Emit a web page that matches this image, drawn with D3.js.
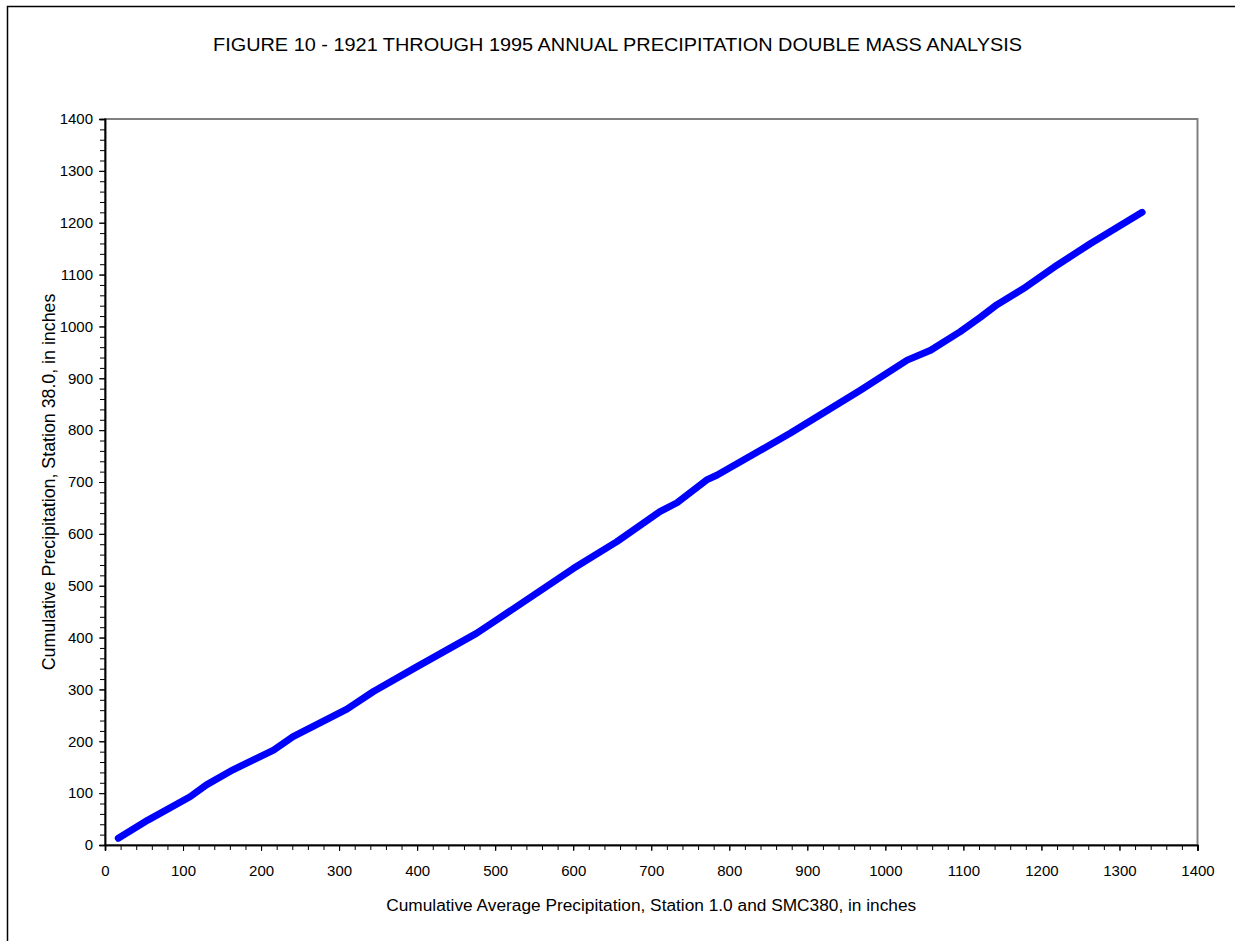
<!DOCTYPE html>
<html>
<head>
<meta charset="utf-8">
<script src="https://cdn.jsdelivr.net/npm/d3@7"></script>
<style>
  html, body { margin: 0; padding: 0; background: #fff; }
  svg { display: block; font-family: "Liberation Sans", Arial, sans-serif; }
</style>
</head>
<body>
<svg id="chart" width="1235" height="941"></svg>
<script>
// ---- Data ----
const titleText = "FIGURE 10 - 1921 THROUGH 1995 ANNUAL PRECIPITATION DOUBLE MASS ANALYSIS";
const xAxisTitle = "Cumulative Average Precipitation, Station 1.0 and SMC380, in inches";
const yAxisTitle = "Cumulative Precipitation, Station 38.0, in inches";
const xTicks = [0,100,200,300,400,500,600,700,800,900,1000,1100,1200,1300,1400];
const yTicks = [0,100,200,300,400,500,600,700,800,900,1000,1100,1200,1300,1400];
// cumulative average precipitation (Station 1.0 and SMC380)
const cumAvg = [17, 55, 109, 130, 164, 216, 241, 310, 344, 400, 476, 502, 600, 656, 711, 733, 771, 784, 848, 878, 968, 1028, 1058, 1096, 1122, 1143, 1177, 1220, 1263, 1329];
// cumulative precipitation (Station 38.0)
const cumSta = [13, 48, 93, 116, 145, 183, 209, 262, 296, 344, 408, 434, 533, 585, 643, 660, 704, 713, 768, 794, 877, 935, 954, 990, 1018, 1042, 1073, 1118, 1160, 1220];

const svg = d3.select("#chart");

// outer frame
svg.append("rect")
  .attr("x", 7.5).attr("y", 6.5)
  .attr("width", 1260).attr("height", 960)
  .attr("fill", "none").attr("stroke", "#000").attr("stroke-width", 1.5);

const L = 105, R = 1197.5, T = 119, B = 845;
const x = d3.scaleLinear().domain([0, 1400]).range([L, R]);
const y = d3.scaleLinear().domain([0, 1400]).range([B, T]);

// plot area border (grey)
svg.append("rect")
  .attr("x", L).attr("y", T).attr("width", R - L).attr("height", B - T)
  .attr("fill", "none").attr("stroke", "#808080").attr("stroke-width", 2);

// minor ticks
const minor = d3.range(0, 1401, 20);
const xMinor = svg.append("g").attr("transform", `translate(0,${B})`)
  .call(d3.axisBottom(x).tickValues(minor).tickSize(5).tickFormat(""));
const yMinor = svg.append("g").attr("transform", `translate(${L},0)`)
  .call(d3.axisLeft(y).tickValues(minor).tickSize(5).tickFormat(""));

// major axes
const xAxis = svg.append("g").attr("transform", `translate(0,${B})`)
  .call(d3.axisBottom(x).tickValues(xTicks).tickSize(6).tickPadding(14).tickFormat(d3.format("d")));
const yAxis = svg.append("g").attr("transform", `translate(${L},0)`)
  .call(d3.axisLeft(y).tickValues(yTicks).tickSize(6).tickPadding(6).tickFormat(d3.format("d")));

[xMinor, yMinor, xAxis, yAxis].forEach(g => {
  g.select(".domain").attr("stroke", "#000").attr("stroke-width", 1.5);
  g.selectAll(".tick line").attr("stroke", "#000").attr("stroke-width", 1);
  g.selectAll(".tick text").attr("fill", "#000").style("font-size", "15px")
    .style("font-family", "'Liberation Sans', Arial, sans-serif");
});
xAxis.selectAll(".tick text").attr("dy", "0.71em");

// data line
const pts = cumAvg.map((v, i) => [v, cumSta[i]]);
svg.append("path")
  .datum(pts)
  .attr("fill", "none")
  .attr("stroke", "#0000ff")
  .attr("stroke-width", 7)
  .attr("stroke-linecap", "round")
  .attr("stroke-linejoin", "round")
  .attr("d", d3.line().x(d => x(d[0])).y(d => y(d[1])));

// title
svg.append("text")
  .attr("x", 617.5).attr("y", 51)
  .attr("text-anchor", "middle")
  .style("font-size", "19px")
  .attr("textLength", 809).attr("lengthAdjust", "spacingAndGlyphs")
  .text(titleText);

// axis titles
svg.append("text")
  .attr("x", (L + R) / 2).attr("y", 911)
  .attr("text-anchor", "middle")
  .style("font-size", "17.3px")
  .text(xAxisTitle);

svg.append("text")
  .attr("transform", `translate(55,${(T + B) / 2}) rotate(-90)`)
  .attr("text-anchor", "middle")
  .style("font-size", "17.8px")
  .text(yAxisTitle);
</script>
</body>
</html>
